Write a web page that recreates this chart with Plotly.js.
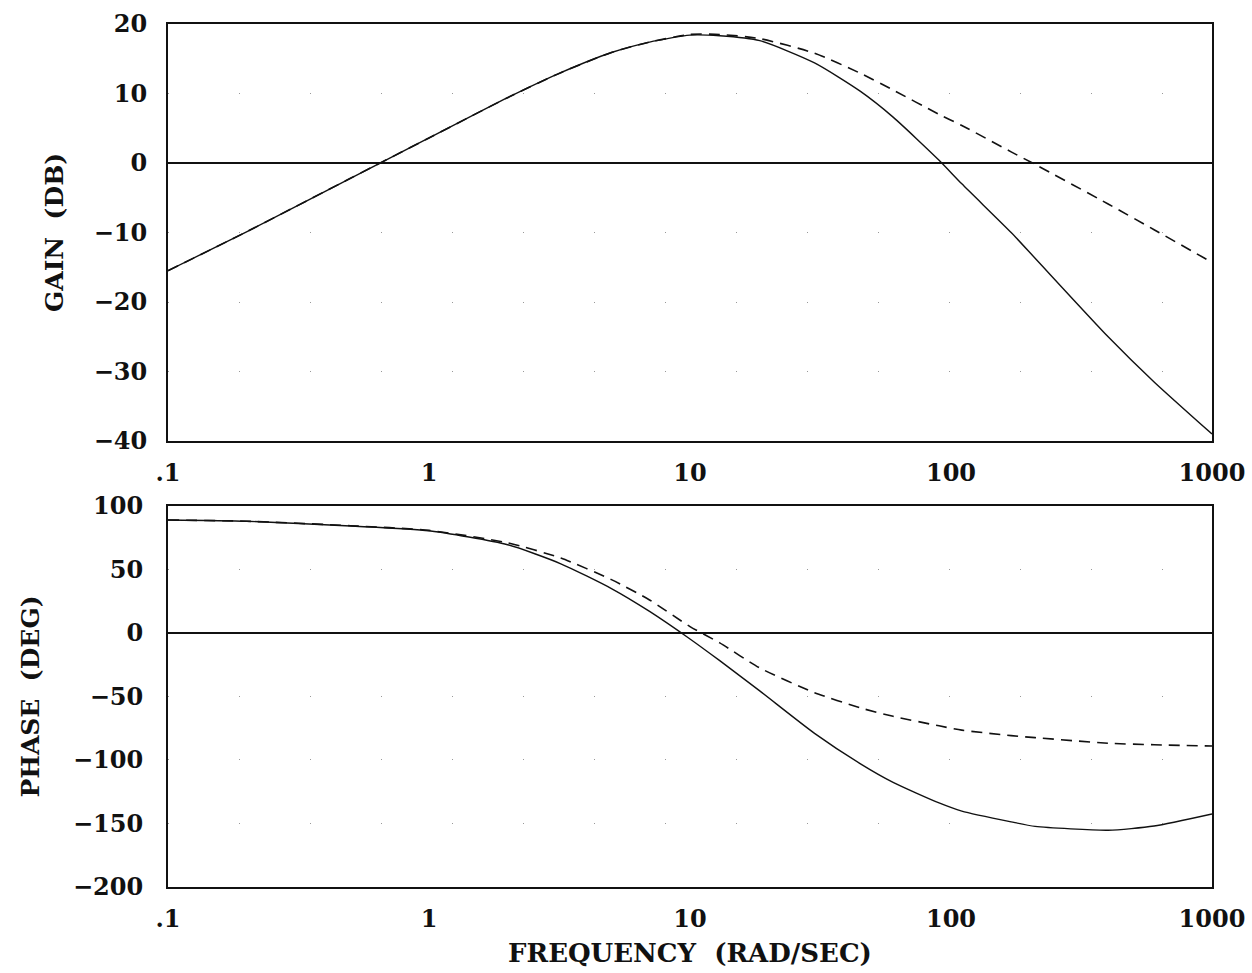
<!DOCTYPE html>
<html>
<head>
<meta charset="utf-8">
<script src="https://cdn.plot.ly/plotly-3.0.1.min.js"></script>
<style>html,body{margin:0;padding:0;background:#fff}#chart{width:1252px;height:973px}</style>
</head>
<body>
<div id="chart"></div>
<script>
// Frequencies (rad/sec) at which values were read
const freq = [0.1, 0.2, 0.5, 1, 2, 3.2, 5, 7, 10, 13, 18.5, 30, 45, 60, 90, 110, 170, 210, 400, 600, 1000];

// Gain (dB)
const gainSolid  = [-15.5, -9.9, -2.2, 3.6, 9.4, 13.0, 15.9, 17.4, 18.4, 18.3, 17.6, 14.4, 10.3, 6.6, 0.4, -3.0, -10.0, -13.7, -25.0, -31.5, -39.0];
const gainDashed = [-15.5, -9.9, -2.2, 3.6, 9.4, 13.0, 15.9, 17.4, 18.5, 18.5, 17.9, 15.8, 12.9, 10.5, 7.0, 5.4, 1.6, -0.2, -5.9, -9.6, -14.3];

// Phase (deg)
const phaseSolid  = [89, 88, 84.2, 80.5, 69.5, 54.5, 35, 17, -4.7, -21.8, -45.6, -79, -103, -117.6, -133.8, -140.2, -148.7, -152.3, -155.3, -152, -142.5];
const phaseDashed = [89, 88, 84.5, 80.8, 71, 59, 42, 26, 5, -7.8, -27.5, -47, -59, -65.6, -73.1, -76.5, -80.8, -82.4, -86.8, -88, -89];

// Tick labels
const xTickVals = [0.1, 1, 10, 100, 1000];
const xTickText = ['.1', '1', '10', '100', '1000'];
const gainTicks = [-40, -30, -20, -10, 0, 10, 20];
const phaseTicks = [-200, -150, -100, -50, 0, 50, 100];

const serif = {family: 'DejaVu Serif, Liberation Serif, serif', size: 24, color: '#111', weight: 700};
const titleFont = {family: 'DejaVu Serif, Liberation Serif, serif', size: 25, color: '#111', weight: 700};
const xTitleFont = {family: 'DejaVu Serif, Liberation Serif, serif', size: 26, color: '#111', weight: 700};

const solidLine = {color: '#111', width: 1.4, shape: 'spline', smoothing: 0.6};
const dashedLine = {color: '#111', width: 1.6, dash: '11px,7px', shape: 'spline', smoothing: 0.6};

const traces = [
  {x: freq, y: gainSolid, xaxis: 'x', yaxis: 'y', mode: 'lines', line: solidLine, showlegend: false},
  {x: freq, y: gainDashed, xaxis: 'x', yaxis: 'y', mode: 'lines', line: dashedLine, showlegend: false},
  {x: freq, y: phaseSolid, xaxis: 'x2', yaxis: 'y2', mode: 'lines', line: solidLine, showlegend: false},
  {x: freq, y: phaseDashed, xaxis: 'x2', yaxis: 'y2', mode: 'lines', line: dashedLine, showlegend: false}
];

const xCommon = {
  type: 'log', range: [-1, 3], tickvals: xTickVals, ticktext: xTickText,
  showgrid: false, zeroline: false, showline: true, mirror: true,
  linecolor: '#111', linewidth: 2, ticks: '', tickfont: serif, ticklabelstandoff: 9
};
const yCommon = {
  showgrid: true, gridcolor: '#999', gridwidth: 1, griddash: '1px,70px',
  zeroline: true, zerolinecolor: '#111', zerolinewidth: 1.5,
  showline: true, mirror: true, linecolor: '#111', linewidth: 2,
  ticks: '', tickfont: serif
};

const layout = {
  width: 1252, height: 973,
  margin: {l: 168, r: 40, t: 24, b: 86},
  paper_bgcolor: '#fff', plot_bgcolor: '#fff',
  showlegend: false,
  xaxis: Object.assign({}, xCommon, {domain: [0, 1], anchor: 'y'}),
  yaxis: Object.assign({}, yCommon, {domain: [0.5168, 1], anchor: 'x', range: [-40, 20], tickvals: gainTicks,
    ticklabelstandoff: 14, title: {text: 'GAIN  (DB)', font: titleFont, standoff: 23}}),
  xaxis2: Object.assign({}, xCommon, {domain: [0, 1], anchor: 'y2',
    title: {text: 'FREQUENCY  (RAD/SEC)', font: xTitleFont, standoff: 12}}),
  yaxis2: Object.assign({}, yCommon, {domain: [0, 0.4415], anchor: 'x2', range: [-200, 100], tickvals: phaseTicks,
    ticklabelstandoff: 18, title: {text: 'PHASE  (DEG)', font: titleFont, standoff: 26}})
};

Plotly.newPlot('chart', traces, layout, {staticPlot: true, displayModeBar: false});
</script>
</body>
</html>
